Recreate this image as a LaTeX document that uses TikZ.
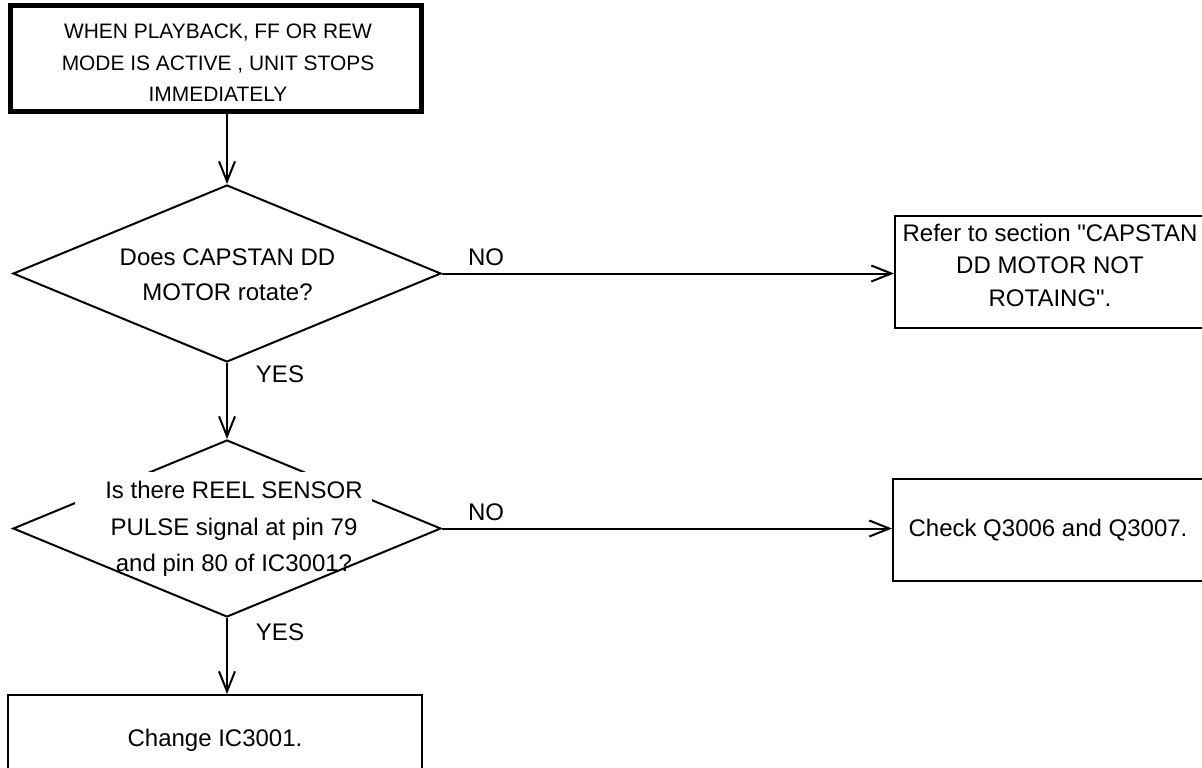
\documentclass[tikz,border=0pt]{standalone}
\usepackage{fontspec}
\setmainfont{Liberation Sans}
\usetikzlibrary{shapes.geometric,arrows.meta}

\tikzset{every picture/.style={line width=1.5pt}}
\tikzset{
  stepbox/.style={draw, rectangle, align=center, inner sep=0pt, font=\fontsize{18}{24.4}\selectfont},
  decision/.style={draw, diamond, inner sep=0pt, minimum width=321pt, minimum height=132.75pt},
  asktext/.style={align=center, inner sep=0pt, font=\fontsize{18}{26.25}\selectfont},
  branchtext/.style={inner sep=0pt, font=\fontsize{18}{22}\selectfont},
  flowarrow/.style={-{Straight Barb[length=15pt,width=12pt]}},
}

\begin{document}
\begin{tikzpicture}[x=0.75pt,y=0.75pt,yscale=-1,xscale=1]
	\useasboundingbox (0,0) rectangle (1202,767);
	
	%Shape: Rectangle [id:start]
	\node (start) [stepbox, line width=3.75pt, minimum width=308.25pt, minimum height=79.1pt] at (216,58.5) {};
	% Text Node
	\node (starttxt) [asktext, font=\fontsize{15.7}{23.6}\selectfont] at (218,63) {WHEN PLAYBACK, FF OR REW\\MODE IS ACTIVE , UNIT STOPS\\IMMEDIATELY};
	
	%Shape: Diamond [id:capstan]
	\node (capstan) [decision] at (227,273.5) {};
	% Text Node
	\node (capstantxt) [asktext] at (227.5,275) {Does CAPSTAN DD\\MOTOR rotate?};
	
	%Shape: Rectangle [id:refer]
	\node (refer) [stepbox, minimum width=232.5pt, minimum height=84pt] at (1050,272) {};
	% Text Node
	\node (refertxt) [asktext, font=\fontsize{18}{24.4}\selectfont] at (1050,265) {Refer to section \textquotedbl CAPSTAN\\DD MOTOR NOT\\ROTAING\textquotedbl.};
	
	%Shape: Diamond [id:reel]
	\node (reel) [decision] at (227,528.5) {};
	%Shape: Rectangle [id:mask]
	\fill [white] (75,472) rectangle (372,505);
	% Text Node
	\node (reeltxt) [asktext, font=\fontsize{18}{27.4}\selectfont] at (234,529) {Is there REEL SENSOR\\PULSE signal at pin 79\\and pin 80 of IC3001?};
	
	%Shape: Rectangle [id:check]
	\node (check) [stepbox, minimum width=232.5pt, minimum height=76.5pt] at (1048,530) {Check Q3006 and Q3007.};
	
	%Shape: Rectangle [id:change]
	\node (change) [stepbox, minimum width=310.5pt, minimum height=67.5pt] at (215,740) {Change IC3001.};
	
	%Straight Lines
	\draw [flowarrow] (start.south -| capstan.north) -- (capstan.north);
	\draw [flowarrow] (capstan.east) -- (capstan.east -| refer.west);
	\draw [flowarrow] (capstan.south) -- (reel.north);
	\draw [flowarrow] (reel.east) -- (reel.east -| check.west);
	\draw [flowarrow] (reel.south) -- (reel.south |- change.north);
	
	% Text Node
	\node (no1) [branchtext] at (486,257) {NO};
	% Text Node
	\node (yes1) [branchtext] at (280,374) {YES};
	% Text Node
	\node (no2) [branchtext] at (486,512) {NO};
	% Text Node
	\node (yes2) [branchtext] at (280,632) {YES};
\end{tikzpicture}
\end{document}
